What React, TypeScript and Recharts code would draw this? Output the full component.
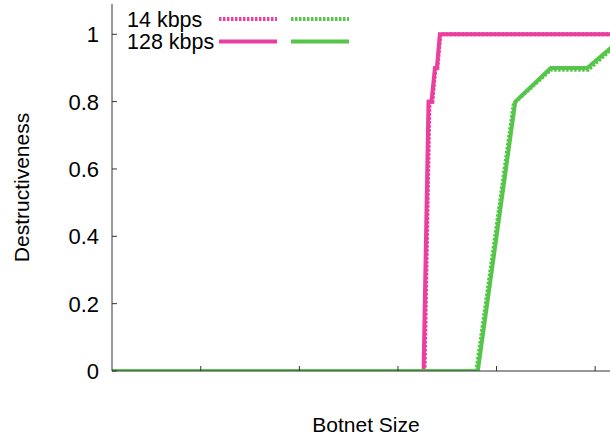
import React from 'react';
import { LineChart, Line, XAxis, YAxis, Legend } from 'recharts';

// Botnet size vs. destructiveness for two link rates and two attack variants.
type Pt = { x: number; y: number };
const toPts = (rows: number[][]): Pt[] => rows.map(([x, y]) => ({ x, y }));

const PINK_14 = [
  [100, 0], [3270, 0], [3320, 0.8], [3350, 0.8], [3380, 0.9], [3400, 0.9], [3430, 1], [5250, 1],
];
const PINK_128 = [
  [100, 0], [3260, 0], [3310, 0.8], [3340, 0.8], [3375, 0.9], [3395, 0.9], [3425, 1], [5250, 1],
];
const GREEN_14 = [
  [100, 0], [3795, 0], [4175, 0.795], [4550, 0.895], [4930, 0.895], [5335, 1],
];
const GREEN_128 = [
  [100, 0], [3810, 0], [4190, 0.8], [4550, 0.9], [4920, 0.9], [5320, 1],
];

const X_TICKS = [1000, 2000, 3000, 4000, 5000];
const Y_TICKS = [0, 0.2, 0.4, 0.6, 0.8, 1];
const X_DOMAIN = [100, 5252];
const Y_DOMAIN = [0, 1.09];

const RATE_LABELS = ['14 kbps', '128 kbps'];
const PINK = '#ea3f9f';
const GREEN = '#56c64a';
const AXIS = '#333';
const FONT = '"Liberation Sans", Arial, Helvetica, sans-serif';
const DOTS = '2.5 1.5';

const YTick = (props: any) => {
  const { x, y, payload } = props;
  return (
    <g>
      <line x1={x} y1={y} x2={x + 5} y2={y} stroke={AXIS} strokeWidth={1} />
      <text x={x - 13} y={y} dy="0.36em" textAnchor="end" fontSize={22} fontFamily={FONT} fill="#000">
        {String(payload.value)}
      </text>
    </g>
  );
};

const BottomTick = (props: any) => {
  const { x, y } = props;
  return <line x1={x} y1={y} x2={x} y2={y - 5} stroke={AXIS} strokeWidth={1} />;
};

const TopTick = (props: any) => {
  const { x, y } = props;
  return <line x1={x} y1={y} x2={x} y2={y + 5} stroke={AXIS} strokeWidth={1} />;
};

// gnuplot-style key: one label per row, pink and green samples side by side
const KeyBox = () => (
  <svg width={400} height={60} style={{ display: 'block' }}>
    {RATE_LABELS.map((label, i) => {
      const cy = 19 + i * 22.5;
      const dash = i === 0 ? DOTS : undefined;
      return (
        <g key={label}>
          <text x={127} y={cy} dy="0.36em" fontSize={21.5} fontFamily={FONT} fill="#000">
            {label}
          </text>
          <line x1={219} y1={cy} x2={277} y2={cy} stroke={PINK} strokeWidth={4} strokeDasharray={dash} />
          <line x1={291} y1={cy} x2={349} y2={cy} stroke={GREEN} strokeWidth={4} strokeDasharray={dash} />
        </g>
      );
    })}
  </svg>
);

export default function App() {
  return (
    <div
      style={{
        position: 'absolute',
        left: 0,
        top: 0,
        width: 610,
        height: 437,
        overflow: 'hidden',
        background: '#fff',
        fontFamily: FONT,
      }}
    >
      <LineChart width={620} height={437} margin={{ top: 4, right: 0, left: 0, bottom: 0 }}>
        <XAxis
          dataKey="x"
          type="number"
          domain={X_DOMAIN}
          allowDataOverflow
          ticks={X_TICKS}
          height={66}
          tickSize={0}
          tickMargin={0}
          tickLine={false}
          tick={<BottomTick />}
          axisLine={{ stroke: AXIS, strokeWidth: 1 }}
          label={{
            value: 'Botnet Size',
            position: 'insideBottom',
            offset: 5,
            style: { fontSize: 21, fontFamily: FONT, fill: '#000' },
          }}
        />
        <XAxis
          xAxisId="top"
          dataKey="x"
          orientation="top"
          type="number"
          domain={X_DOMAIN}
          allowDataOverflow
          ticks={X_TICKS}
          height={0}
          tickSize={0}
          tickMargin={0}
          tickLine={false}
          tick={<TopTick />}
          axisLine={{ stroke: AXIS, strokeWidth: 1 }}
        />
        <YAxis
          dataKey="y"
          type="number"
          domain={Y_DOMAIN}
          allowDataOverflow
          ticks={Y_TICKS}
          width={112}
          tickSize={0}
          tickMargin={0}
          tickLine={false}
          tick={<YTick />}
          axisLine={{ stroke: AXIS, strokeWidth: 1 }}
          label={{
            value: 'Destructiveness',
            angle: -90,
            position: 'insideLeft',
            offset: 22,
            style: { textAnchor: 'middle', fontSize: 21, fontFamily: FONT, fill: '#000' },
          }}
        />
        <Legend
          layout="horizontal"
          verticalAlign="middle"
          align="center"
          content={() => <KeyBox />}
          wrapperStyle={{ position: 'absolute', left: 0, top: 0, width: 400, height: 60 }}
        />
        <Line
          data={toPts(PINK_14)}
          dataKey="y"
          name="14 kbps pink"
          stroke={PINK}
          strokeWidth={4}
          strokeDasharray={DOTS}
          dot={false}
          activeDot={false}
          isAnimationActive={false}
        />
        <Line
          data={toPts(PINK_128)}
          dataKey="y"
          name="128 kbps pink"
          stroke={PINK}
          strokeWidth={4}
          dot={false}
          activeDot={false}
          isAnimationActive={false}
        />
        <Line
          data={toPts(GREEN_14)}
          dataKey="y"
          name="14 kbps green"
          stroke={GREEN}
          strokeWidth={4}
          strokeDasharray={DOTS}
          dot={false}
          activeDot={false}
          isAnimationActive={false}
        />
        <Line
          data={toPts(GREEN_128)}
          dataKey="y"
          name="128 kbps green"
          stroke={GREEN}
          strokeWidth={4}
          dot={false}
          activeDot={false}
          isAnimationActive={false}
        />
      </LineChart>
    </div>
  );
}
